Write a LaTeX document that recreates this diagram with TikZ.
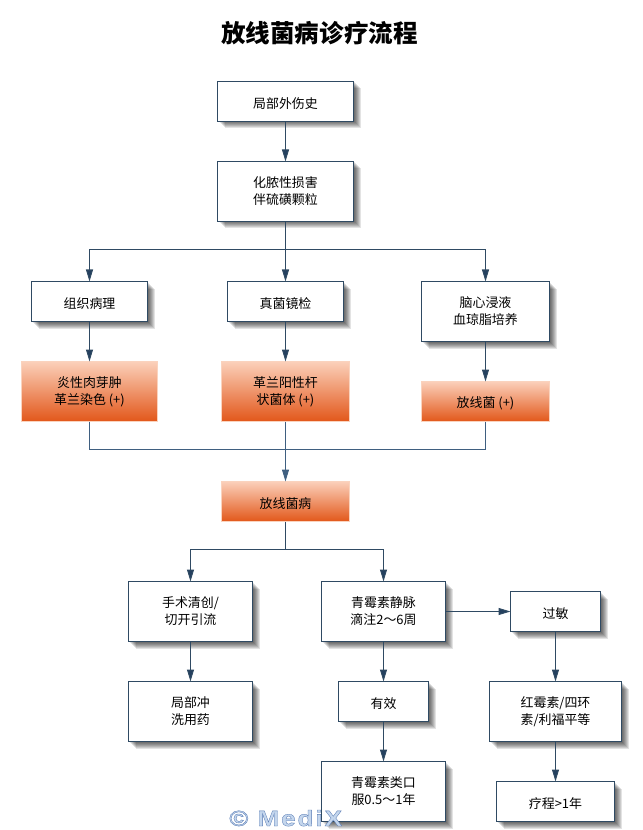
\documentclass[tikz,border=0pt]{standalone}
\usepackage{fontspec}
\setmainfont{Noto Sans CJK SC}
\newfontfamily\wmfont[FakeBold=1.5,FakeStretch=1.18,LetterSpace=9]{Liberation Sans Bold}
\usetikzlibrary{arrows.meta,shadows}
\definecolor{linec}{HTML}{2F4A63}
\definecolor{tipc}{HTML}{24405F}
\definecolor{linelight}{HTML}{3F5F80}
\definecolor{peachT}{HTML}{FBD0BA}
\definecolor{peachB}{HTML}{E2571A}
\definecolor{peachE}{HTML}{FAD3BE}
\tikzset{
  softlayer/.style={general shadow={draw=none,fill=black,opacity=.11,shadow xshift=#1*0.75pt,shadow yshift=-#1*0.75pt}},
  softshadow/.style={softlayer=7,softlayer=6,softlayer=5,softlayer=4,softlayer=3,softlayer=2,softlayer=1},
  w/.style={minimum width=#1*0.75pt},
  h/.style={minimum height=#1*0.75pt},
  base/.style={inner sep=0pt,outer sep=0pt,align=center,font=\fontsize{9.7pt}{12.75pt}\selectfont,text=black,
    execute at begin node={\rule{0pt}{11pt}}},
  plainbox/.style={base,softshadow,draw=linec,fill=white,line width=.75pt},
  hotbox/.style={base,draw=peachE,line width=.75pt,top color=peachT,bottom color=peachB},
  link/.style={draw=linec,line width=.75pt},
  flow/.style={link,-{Triangle[length=9pt,width=5.25pt,fill=tipc]}},
  lightlink/.style={draw=linelight,line width=.75pt},
  flowlight/.style={lightlink,-{Triangle[length=9pt,width=5.25pt,fill=linelight]}},
}
\begin{document}
\begin{tikzpicture}[x=0.75pt,y=-0.75pt]
\useasboundingbox (0,0) rectangle (642,830);
\node[inner sep=0pt,font=\fontsize{18.4pt}{20pt}\selectfont\bfseries] (title) at (319.5,33) {放线菌病诊疗流程};

\node[plainbox,w=136,h=40] (A) at (285.5,101.5) {局部外伤史};
\node[plainbox,w=136,h=60] (B) at (285.5,191.5) {化脓性损害\\伴硫磺颗粒};
\node[plainbox,w=116,h=40] (C) at (89.5,301.5) {组织病理};
\node[plainbox,w=116,h=40] (D) at (285.5,301.5) {真菌镜检};
\node[plainbox,w=128,h=60] (E) at (485.5,311.5) {脑心浸液\\血琼脂培养};
\node[hotbox,w=136,h=60] (F) at (89.5,391.5) {炎性肉芽肿\\革兰染色 (+)};
\node[hotbox,w=128,h=60] (G) at (285.5,391.5) {革兰阳性杆\\状菌体 (+)};
\node[hotbox,w=128,h=40] (H) at (485.5,401.5) {放线菌 (+)};
\node[hotbox,w=128,h=40] (I) at (285.5,501.5) {放线菌病};
\node[plainbox,w=124,h=60] (J) at (190.5,611.5) {手术清创/\\切开引流};
\node[plainbox,w=124,h=60] (K) at (383.5,611.5) {青霉素静脉\\滴注2～6周};
\node[plainbox,w=90,h=40] (L) at (555.5,611.5) {过敏};
\node[plainbox,w=124,h=60] (M) at (190.5,711.5) {局部冲\\洗用药};
\node[plainbox,w=90,h=40] (N) at (383.5,701.5) {有效};
\node[plainbox,w=132,h=60] (O) at (555.5,711.5) {红霉素/四环\\素/利福平等};
\node[plainbox,w=124,h=60] (P) at (383.5,791.5) {青霉素类口\\服0.5～1年};
\node[plainbox,w=118,h=40] (Q) at (555.5,801.5) {疗程>1年};

\coordinate (r1) at (285.5,249.5);
\coordinate (r2) at (285.5,449.5);
\coordinate (r3) at (285.5,549.5);

\draw[flow] (A) -- (B);
\draw[link] (B) -- (r1);
\draw[flow] (r1) -| (C.north);
\draw[flow] (r1) -- (D);
\draw[flow] (r1) -| (E.north);
\draw[flow] (C) -- (F);
\draw[flow] (D) -- (G);
\draw[flow] (E) -- (H);
\draw[lightlink] (F.south) |- (r2);
\draw[lightlink] (H.south) |- (r2);
\draw[lightlink] (G) -- (r2);
\draw[flowlight] (r2) -- (I);
\draw[link] (I) -- (r3);
\draw[flow] (r3) -| (J.north);
\draw[flow] (r3) -| (K.north);
\draw[flow] (J) -- (M);
\draw[flow] (K) -- (N);
\draw[flow] (N) -- (P);
\draw[flow] (K) -- (L);
\draw[flow] (L) -- (O);
\draw[flow] (O) -- (Q);

\node[inner sep=0pt,anchor=base west,font=\wmfont\fontsize{16.5pt}{18pt}\selectfont] (wm) at (229,826)
  {\special{pdf:bcolor [0.77 0.84 0.93] [0.33 0.47 0.70]}© MediX\special{pdf:ecolor}};
\end{tikzpicture}
\end{document}
